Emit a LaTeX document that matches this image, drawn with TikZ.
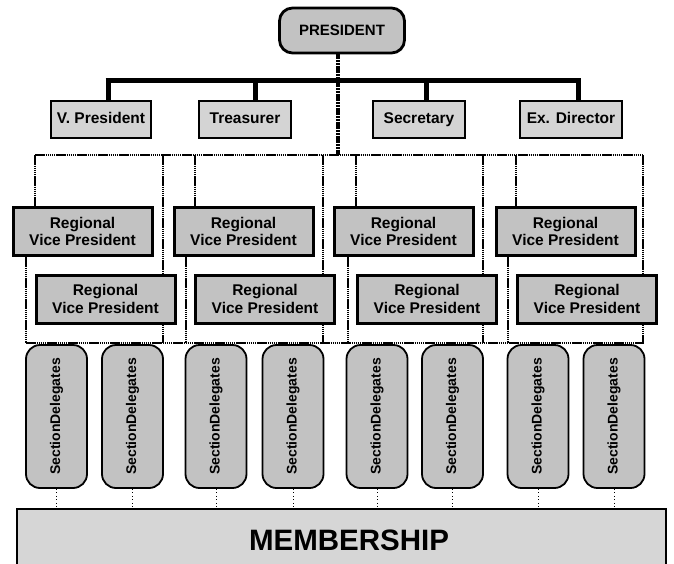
\documentclass[tikz,border=0pt]{standalone}
\usepackage{fontspec}
\setmainfont{Liberation Sans}
\begin{document}
\begin{tikzpicture}[x=1pt,y=-1pt,
  basebox/.style={draw, inner sep=0pt, align=center, font=\bfseries\fontsize{15}{17}\selectfont},
  presbox/.style={basebox, line width=2.8pt, fill=black!24, rounded corners=13pt, minimum width=125, minimum height=45},
  offbox/.style={basebox, line width=2.8pt, fill=black!17, minimum height=37, text height=11pt, text depth=3.5pt, font=\bfseries\fontsize{15.5}{17}\selectfont},
  rvpbox/.style={basebox, line width=3pt, fill=black!24, minimum width=139, minimum height=48, font=\bfseries\fontsize{15.5}{17.5}\selectfont},
  secbox/.style={basebox, line width=1.8pt, fill=black!24, rounded corners=14pt, rotate=90, minimum width=143, minimum height=61, font=\bfseries\fontsize{14}{15}\selectfont},
  membox/.style={basebox, line width=1.8pt, fill=black!16, minimum width=649, minimum height=62, font=\bfseries\fontsize{29.5}{30}\selectfont},
  busline/.style={line width=1.9pt, dash pattern=on 1.5pt off 0.6pt},
  stemline/.style={line width=3.4pt, dash pattern=on 2.2pt off 0.6pt},
  barline/.style={line width=5pt},
  thinline/.style={line width=1pt, dash pattern=on 1pt off 2.5pt}
]
\useasboundingbox (0,0) rectangle (674,563);

% President and officers
\node[presbox] (pres) at (342,30.5) {PRESIDENT};
\node[offbox, minimum width=100] (vp)  at (101,119.5) {V. President};
\node[offbox, minimum width=92]  (tr)  at (245,119.5) {Treasurer};
\node[offbox, minimum width=92]  (sec) at (419,119.5) {Secretary};
\node[offbox, minimum width=102] (exd) at (571,119.5) {Ex. Director};

\coordinate (s1) at (108,80);
\coordinate (s2) at (255,80);
\coordinate (s3) at (426,80);
\coordinate (s4) at (578,80);
\coordinate (busT) at (338,155);

\draw[barline] ([xshift=-2.5pt]s1) -- ([xshift=2.5pt]s4);
\draw[barline] (s1) -- (s1 |- vp.north);
\draw[barline] (s2) -- (s2 |- tr.north);
\draw[barline] (s3) -- (s3 |- sec.north);
\draw[barline] (s4) -- (s4 |- exd.north);
\draw[stemline] (pres.south -| busT) -- (busT);

% Regional vice presidents
\node[rvpbox] (r11) at (82.5,231.5)  {Regional\\Vice President};
\node[rvpbox] (r12) at (243.5,231.5) {Regional\\Vice President};
\node[rvpbox] (r13) at (403.5,231.5) {Regional\\Vice President};
\node[rvpbox] (r14) at (565.5,231.5) {Regional\\Vice President};
\node[rvpbox] (r21) at (105.5,299) {Regional\\Vice President};
\node[rvpbox] (r22) at (265,299)   {Regional\\Vice President};
\node[rvpbox] (r23) at (427,299)   {Regional\\Vice President};
\node[rvpbox] (r24) at (587,299)   {Regional\\Vice President};

% buses
\coordinate (tL) at (35,155);
\coordinate (tR) at (643,155);
\coordinate (bL) at (26,343);
\coordinate (bR) at (644,343);
\draw[busline] (tL) -- (tR);
\draw[busline] (bL) -- (bR);

% region lines
\foreach \k/\xa/\xb/\xc in {1/35/26/163, 2/195/186/323, 3/356/348/483, 4/516/508/643}{
  \coordinate (a\k) at (\xa,155);
  \coordinate (b\k) at (\xb,343);
  \coordinate (c\k) at (\xc,155);
  \coordinate (d\k) at (\xc,343);
  \draw[busline] (a\k) -- (a\k |- r1\k.north);
  \draw[busline] (b\k |- r1\k.south) -- (b\k);
  \draw[busline] (c\k) -- (c\k |- r2\k.north);
  \draw[busline] (d\k |- r2\k.south) -- (d\k);
}

% section delegates
\foreach \i/\x in {1/56.5, 2/132.5, 3/216, 4/293, 5/377, 6/452.5, 7/538, 8/614}{
  \node[secbox] (sd\i) at (\x,416.5) {SectionDelegates};
}

% membership
\node[membox] (mem) at (341.5,540) {\hspace*{15pt}MEMBERSHIP};

\foreach \i in {1,...,8}{
  \draw[thinline] (sd\i.west) -- (sd\i.west |- mem.north);
}
\end{tikzpicture}
\end{document}
